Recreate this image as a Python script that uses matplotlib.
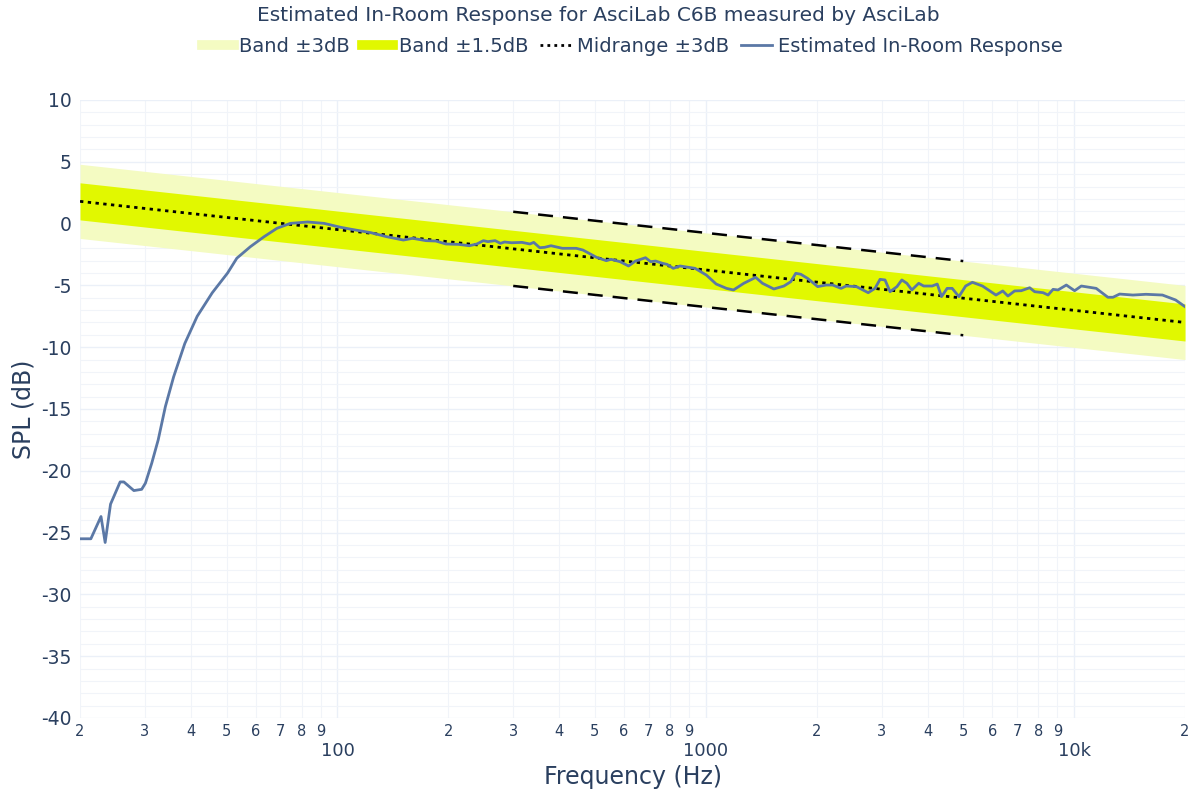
import numpy as np
import matplotlib
matplotlib.use("Agg")
import matplotlib.pyplot as plt
from matplotlib.lines import Line2D
from matplotlib.ticker import FixedLocator, FixedFormatter

# reference line / bands (straight on log axis)
band_freq = [20, 20000]
band_mid = [1.8, -8.0]
midrange_freq = [300, 5000]

# estimated in-room response
freq = [20, 21.4, 22.8, 23.4, 24.2, 25.7, 26.3, 28.0, 29.4, 30.1, 31.3, 32.6, 34.1,
        35.9, 38.5, 41.6, 45.7, 50.3, 53.3, 58.0, 63.2, 68.5, 74.5, 83.0, 91.9,
        102, 109, 123, 136, 151, 160, 174, 185, 197, 213, 228, 239, 249, 256, 268,
        277, 284, 297, 317, 333, 341, 354, 365, 380, 408, 445, 464, 505, 537, 553,
        585, 617, 644, 686, 708, 731, 762, 785, 816, 851, 897, 935, 1003, 1067,
        1138, 1189, 1268, 1366, 1425, 1530, 1630, 1701, 1755, 1811, 1889, 2013,
        2121, 2210, 2330, 2405, 2565, 2760, 2880, 2972, 3066, 3164, 3303, 3406,
        3515, 3626, 3785, 3904, 4117, 4250, 4365, 4521, 4666, 4866, 5075, 5293,
        5639, 6135, 6402, 6611, 6892, 7184, 7574, 7813, 8237, 8497, 8766, 9043,
        9525, 10030, 10460, 11480, 12350, 12750, 13290, 14440, 15670, 17370,
        18860, 20000]
spl = [-25.5, -25.5, -23.7, -25.8, -22.7, -20.9, -20.9, -21.6, -21.5, -21.0, -19.4,
       -17.5, -14.8, -12.4, -9.7, -7.5, -5.6, -4.0, -2.8, -1.87, -1.06, -0.38, 0.02,
       0.13, 0.02, -0.3, -0.46, -0.73, -1.06, -1.33, -1.19, -1.38, -1.41, -1.65,
       -1.68, -1.79, -1.65, -1.38, -1.46, -1.38, -1.6, -1.49, -1.55, -1.52, -1.65,
       -1.52, -1.95, -1.92, -1.79, -2.0, -2.0, -2.14, -2.73, -3.0, -2.89, -3.08,
       -3.43, -3.03, -2.76, -3.08, -3.03, -3.21, -3.3, -3.62, -3.43, -3.54, -3.62,
       -4.16, -4.89, -5.24, -5.37, -4.83, -4.35, -4.83, -5.29, -5.05, -4.7, -4.02,
       -4.1, -4.43, -5.1, -4.97, -4.97, -5.24, -5.05, -5.1, -5.59, -5.24, -4.51,
       -4.56, -5.51, -5.1, -4.56, -4.83, -5.37, -4.83, -5.05, -5.05, -4.89, -5.91,
       -5.24, -5.24, -5.91, -5.05, -4.75, -5.05, -5.78, -5.45, -5.86, -5.45, -5.43,
       -5.19, -5.51, -5.59, -5.78, -5.32, -5.37, -4.97, -5.43, -5.05, -5.24, -5.96,
       -5.96, -5.7, -5.78, -5.72, -5.78, -6.18, -6.72]

TXT = "#2a3f5f"
GRID = "#ebf0f8"

def main():
    plt.rcParams['font.family'] = ['DejaVu Sans']
    plt.rcParams['axes.unicode_minus'] = False
    fig = plt.figure(figsize=(12, 8), dpi=100)
    ax = fig.add_axes([0.0667, 0.1025, 0.9208, 0.7725])

    mid = np.array(band_mid)
    ax.fill_between(band_freq, mid - 3, mid + 3, color="#f4fbc2", lw=0, zorder=1)
    ax.fill_between(band_freq, mid - 1.5, mid + 1.5, color="#e1f800", lw=0, zorder=2)
    ax.plot(band_freq, mid, color="black", lw=2, ls=(0, (1.2, 1.6)), zorder=3)

    # midrange +-3dB dashed
    lf = np.log10(band_freq)
    mr = np.interp(np.log10(midrange_freq), lf, mid)
    for off in (3, -3):
        ax.plot(midrange_freq, mr + off, color="black", lw=1.8,
                ls=(0, (6, 4)), zorder=3)

    ax.plot(freq, spl, color="#5b78a6", lw=2, zorder=4)

    ax.set_xscale("log")
    ax.set_xlim(20, 20000)
    ax.set_ylim(-40, 10)

    majors = [100, 1000, 10000]
    minors = [m * d for d in (10, 100, 1000, 10000) for m in range(2, 10)
              if 20 <= m * d <= 20000]
    ax.xaxis.set_major_locator(FixedLocator(majors))
    ax.set_xticklabels(["100", "1000", "10k"])
    ax.xaxis.set_minor_locator(FixedLocator(minors))
    ax.xaxis.set_minor_formatter(
        FixedFormatter([str(int(round(m / 10 ** np.floor(np.log10(m))))) for m in minors]))
    ax.tick_params(axis='x', which='minor', length=0, pad=4, labelsize=10.5, labelcolor=TXT)
    ax.tick_params(axis='x', which='major', length=0, pad=17, labelsize=13, labelcolor=TXT)

    ax.set_yticks(np.arange(-40, 11, 5))
    ax.set_yticks(np.arange(-40, 11, 1), minor=True)
    ax.tick_params(axis='y', which='both', length=0, pad=6, labelsize=13.5, labelcolor=TXT)

    ax.grid(True, which='major', color=GRID, lw=1, zorder=0)
    ax.grid(True, which='minor', color="#f1f4f9", lw=0.8, zorder=0)
    ax.set_axisbelow(True)
    for s in ax.spines.values():
        s.set_visible(False)

    ax.set_xlabel("Frequency (Hz)", fontsize=17, color=TXT, labelpad=4)
    ax.set_ylabel("SPL (dB)", fontsize=17, color=TXT, labelpad=4)

    fig.text(0.499, 0.981, "Estimated In-Room Response for AsciLab C6B measured by AsciLab",
             ha="center", va="center", fontsize=14.5, color=TXT)

    handles = [
        Line2D([], [], color="#f4fbc2", lw=7),
        Line2D([], [], color="#e1f800", lw=7),
        Line2D([], [], color="black", lw=2, ls=(0, (1, 1.5))),
        Line2D([], [], color="#5b78a6", lw=2),
    ]
    labels = ["Band ±3dB", "Band ±1.5dB", "Midrange ±3dB", "Estimated In-Room Response"]
    leg = fig.legend(handles, labels, loc="center", bbox_to_anchor=(0.527, 0.942),
                     ncol=4, frameon=False, fontsize=14, handlelength=1.6,
                     handletextpad=0.3, columnspacing=0.6)
    for t in leg.get_texts():
        t.set_color(TXT)

    fig.savefig("out.png", dpi=100, facecolor="white")

if __name__ == "__main__":
    main()
